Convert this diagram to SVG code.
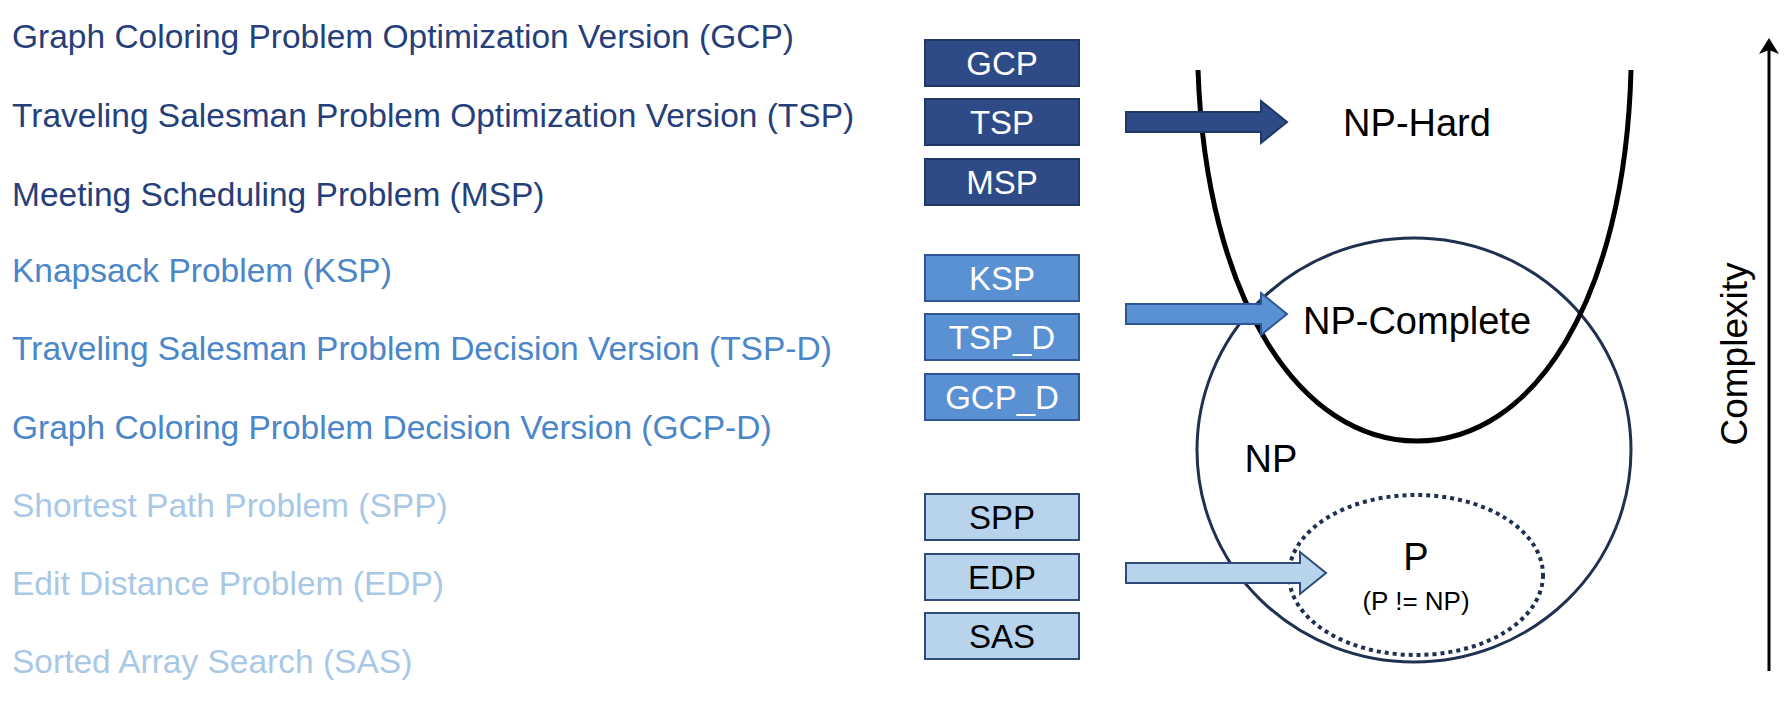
<svg xmlns="http://www.w3.org/2000/svg" width="1792" height="702" viewBox="0 0 1792 702">
<style>
text{font-family:"Liberation Sans",Arial,sans-serif}
.lbl{font-size:33.5px}
.bx{font-size:33px;text-anchor:middle}
.d{fill:#2E4A87;stroke:#1F3864;stroke-width:2}
.m{fill:#5A91D2;stroke:#2F5597;stroke-width:2}
.l{fill:#B8D4ED;stroke:#2F4B7A;stroke-width:2}
.big{font-size:38px;text-anchor:middle}
</style>
<defs><marker id="ah" markerWidth="16" markerHeight="20" refX="8" refY="10" orient="auto" markerUnits="userSpaceOnUse"><path d="M0,0 L16,10 L0,20 L4,10 Z" fill="#000"/></marker></defs>
<g id="labels">
<text class="lbl" x="12" y="48" fill="#263F7A">Graph Coloring Problem Optimization Version (GCP)</text>
<text class="lbl" x="12" y="127" fill="#263F7A">Traveling Salesman Problem Optimization Version (TSP)</text>
<text class="lbl" x="12" y="206" fill="#263F7A">Meeting Scheduling Problem (MSP)</text>
<text class="lbl" x="12" y="282" fill="#4A86C8">Knapsack Problem (KSP)</text>
<text class="lbl" x="12" y="360" fill="#4A86C8">Traveling Salesman Problem Decision Version (TSP-D)</text>
<text class="lbl" x="12" y="439" fill="#4A86C8">Graph Coloring Problem Decision Version (GCP-D)</text>
<text class="lbl" x="12" y="517" fill="#A9C8E6">Shortest Path Problem (SPP)</text>
<text class="lbl" x="12" y="595" fill="#A9C8E6">Edit Distance Problem (EDP)</text>
<text class="lbl" x="12" y="673" fill="#A9C8E6">Sorted Array Search (SAS)</text>
</g>
<g id="box-GCP"><rect class="d" x="925" y="40" width="154" height="46"/><text class="bx" x="1002" y="75" fill="#fff">GCP</text></g>
<g id="box-TSP"><rect class="d" x="925" y="99" width="154" height="46"/><text class="bx" x="1002" y="134" fill="#fff">TSP</text></g>
<g id="box-MSP"><rect class="d" x="925" y="159" width="154" height="46"/><text class="bx" x="1002" y="194" fill="#fff">MSP</text></g>
<g id="box-KSP"><rect class="m" x="925" y="255" width="154" height="46"/><text class="bx" x="1002" y="290" fill="#fff">KSP</text></g>
<g id="box-TSP_D"><rect class="m" x="925" y="314" width="154" height="46"/><text class="bx" x="1002" y="349" fill="#fff">TSP_D</text></g>
<g id="box-GCP_D"><rect class="m" x="925" y="374" width="154" height="46"/><text class="bx" x="1002" y="409" fill="#fff">GCP_D</text></g>
<g id="box-SPP"><rect class="l" x="925" y="494" width="154" height="46"/><text class="bx" x="1002" y="529" fill="#000">SPP</text></g>
<g id="box-EDP"><rect class="l" x="925" y="554" width="154" height="46"/><text class="bx" x="1002" y="589" fill="#000">EDP</text></g>
<g id="box-SAS"><rect class="l" x="925" y="613" width="154" height="46"/><text class="bx" x="1002" y="648" fill="#000">SAS</text></g>
<g id="sets">
<ellipse id="NP" cx="1414" cy="450" rx="217" ry="212" fill="none" stroke="#1F3050" stroke-width="3"/>
<path id="NP-Hard" d="M1198,70 C1206,300 1300,441 1417,441 C1534,441 1625,300 1631,70" fill="none" stroke="#000" stroke-width="5"/>
<ellipse id="P" cx="1416" cy="575" rx="127" ry="80" fill="none" stroke="#1F3050" stroke-width="4" stroke-dasharray="4,4"/>
<text class="big" x="1417" y="136">NP-Hard</text>
<text class="big" x="1417" y="334">NP-Complete</text>
<text class="big" x="1271" y="472">NP</text>
<text class="big" x="1416" y="570">P</text>
<text x="1416" y="610" font-size="26" text-anchor="middle">(P != NP)</text>
</g>
<g id="connectors">
<path d="M1126,112 H1261 V101 L1287,122 L1261,143 V132 H1126 Z" fill="#2E4A87" stroke="#1F3864" stroke-width="2"/>
<path d="M1126,304 H1261 V293 L1287,314 L1261,335 V324 H1126 Z" fill="#5A91D2" stroke="#2F5597" stroke-width="2"/>
<path d="M1126,563 H1300 V552 L1326,573 L1300,594 V583 H1126 Z" fill="#B8D4ED" stroke="#2F4B7A" stroke-width="2"/>
<line x1="1769" y1="671" x2="1769" y2="46" stroke="#000" stroke-width="3" marker-end="url(#ah)"/>
</g>
<text x="1734" y="354" font-size="37" text-anchor="middle" transform="rotate(-90 1734 354)" dy="13">Complexity</text>
</svg>
